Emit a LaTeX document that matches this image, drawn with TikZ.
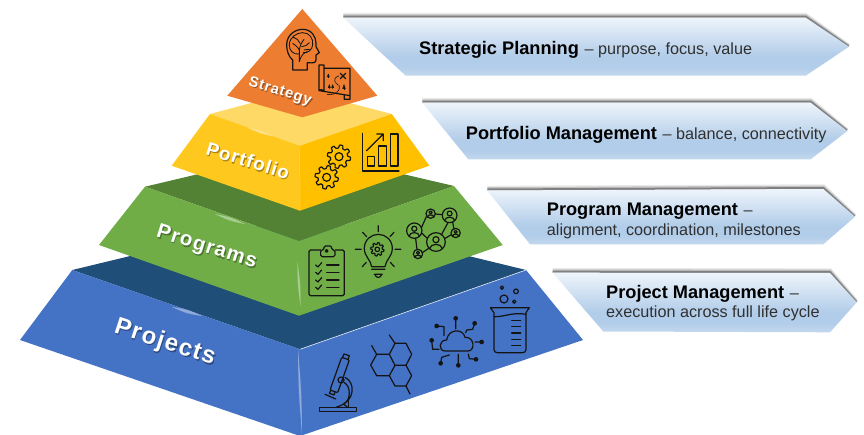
\documentclass[tikz,border=0pt]{standalone}
\usepackage{fontspec}
\setmainfont{Liberation Sans}
\newfontfamily\lblfont[LetterSpace=6,Kerning=Off]{Liberation Sans}
\usetikzlibrary{calc}
\definecolor{blueF}{HTML}{4472C4}
\definecolor{blueT}{HTML}{1F4E79}
\definecolor{greenF}{HTML}{70AD47}
\definecolor{greenT}{HTML}{548235}
\definecolor{yelL}{HTML}{FFC81E}
\definecolor{yelR}{HTML}{FFC000}
\definecolor{yelT}{HTML}{FFD966}
\definecolor{oran}{HTML}{ED7D31}
\definecolor{icon}{HTML}{141414}
\definecolor{subtext}{HTML}{303030}
\definecolor{b1}{HTML}{C3D8EE}
\definecolor{b2}{HTML}{B2CDE9}
\definecolor{b3}{HTML}{EEF4FB}
\pgfdeclareverticalshading{bannershade}{100bp}{
  color(0bp)=(b1); color(25bp)=(b1); color(33bp)=(b2); color(42bp)=(b2); color(75bp)=(b3); color(100bp)=(b3)}
\pgfdeclarelayer{tshadow}
\pgfdeclarelayer{labels}
\pgfsetlayers{main,tshadow,labels}
\tikzset{
  ico/.style={draw=icon,line width=1.2pt,line join=round,line cap=round},
  bold head/.style={inner sep=0pt,anchor=base west,font=\fontsize{18.2}{18.2}\selectfont\bfseries,text=black},
  sub line/.style={inner sep=0pt,anchor=base west,font=\fontsize{16.2}{16.2}\selectfont,text=subtext},
  sdw/.style={draw=black,opacity=.33,line width=\sdwidth,line cap=butt,line join=round},
}
% letter skeletons for the soft drop shadow under the tier labels (em units, y up)
\def\sglS{\draw[sdw] (.57,.58) .. controls (.5,.66) and (.17,.68) .. (.14,.52) .. controls (.12,.38) and (.55,.38) .. (.54,.2) .. controls (.52,.03) and (.14,.03) .. (.09,.2);}
\def\sglt{\draw[sdw] (.16,.68) -- (.16,.1) .. controls (.16,.05) and (.22,.05) .. (.3,.06) (.03,.47) -- (.3,.47);}
\def\sglr{\draw[sdw] (.11,.52) -- (.11,0) (.11,.33) .. controls (.15,.47) and (.26,.47) .. (.36,.45);}
\def\sgla{\draw[sdw] (.08,.38) .. controls (.12,.5) and (.43,.5) .. (.43,.35) -- (.43,.08) -- (.47,0) (.43,.28) .. controls (.2,.27) and (.08,.24) .. (.08,.14) .. controls (.08,.02) and (.35,.03) .. (.43,.12);}
\def\sgle{\draw[sdw] (.09,.27) -- (.47,.27) .. controls (.47,.55) and (.09,.55) .. (.09,.26) .. controls (.09,0) and (.42,.02) .. (.47,.14);}
\def\sglg{\draw[sdw] (.49,.52) -- (.49,-.05) .. controls (.49,-.2) and (.15,-.2) .. (.1,-.09) (.49,.26) .. controls (.49,.53) and (.11,.53) .. (.11,.26) .. controls (.11,0) and (.49,0) .. (.49,.26);}
\def\sgly{\draw[sdw] (.05,.52) -- (.28,0) (.5,.52) -- (.28,0) .. controls (.22,-.15) and (.15,-.15) .. (.07,-.14);}
\def\sglP{\draw[sdw] (.14,0) -- (.14,.72) (.14,.66) -- (.4,.66) .. controls (.65,.66) and (.65,.31) .. (.4,.31) -- (.14,.31);}
\def\sglo{\draw[sdw] (.5,.26) .. controls (.5,.55) and (.1,.55) .. (.1,.26) .. controls (.1,-.03) and (.5,-.03) .. (.5,.26);}
\def\sglf{\draw[sdw] (.15,0) -- (.15,.55) .. controls (.15,.68) and (.22,.68) .. (.32,.67) (.02,.47) -- (.3,.47);}
\def\sgll{\draw[sdw] (.14,0) -- (.14,.72);}
\def\sgli{\draw[sdw] (.14,0) -- (.14,.52) (.14,.6) -- (.14,.72);}
\def\sglm{\draw[sdw] (.11,0) -- (.11,.52) (.11,.36) .. controls (.15,.5) and (.44,.5) .. (.44,.33) -- (.44,0) (.44,.36) .. controls (.48,.5) and (.78,.5) .. (.78,.33) -- (.78,0);}
\def\sgls{\draw[sdw] (.47,.38) .. controls (.42,.52) and (.1,.52) .. (.1,.38) .. controls (.1,.24) and (.46,.3) .. (.46,.14) .. controls (.46,0) and (.12,0) .. (.07,.14);}
\def\sglj{\draw[sdw] (.14,.52) -- (.14,-.1) .. controls (.14,-.18) and (.08,-.18) .. (-.03,-.17) (.14,.6) -- (.14,.72);}
\def\sglc{\draw[sdw] (.5,.36) .. controls (.43,.54) and (.09,.52) .. (.09,.26) .. controls (.09,0) and (.43,-.02) .. (.5,.17);}
\newcommand\glint[5]{% x1 y1 x2 y2 halfwidth
  \foreach \k/\o in {1/.18,.65/.25,.3/.35}{
    \fill[white,opacity=\o] (#1,#2) .. controls ($(#1,#2)!.5!(#3,#4)!\k*#5 pt!90:(#3,#4)$) .. (#3,#4)
      .. controls ($(#1,#2)!.5!(#3,#4)!\k*#5 pt!-90:(#3,#4)$) .. cycle;}}
\newcommand\banner[5]{% TL TR tip BR BL
  \foreach \w/\o/\d in {5/.12/2.2,3.5/.25/1.6,2/.55/1}{
    \draw[black!70,line width=\w pt,opacity=\o]
      ($(#1)+(0,-\d)$) -- ($(#2)+(0,-\d)$) -- ($(#3)+(-\d*.3,-\d*.3)$);}
  \shade[shading=bannershade] (#1) -- (#2) -- (#3) -- (#4) -- (#5) -- cycle;}
% name x y rot size text letters/advances
\newcommand\shlabel[7]{%
  \begin{pgfonlayer}{labels}
  \node[rotate=#4,inner sep=0pt,text=white,font=\fontsize{#5}{#5}\selectfont\lblfont\bfseries] (#1) at (#2,#3) {#6};
  \end{pgfonlayer}
  \begin{pgfonlayer}{tshadow}
  \begin{scope}[shift={($(#1.base west)+(1.1,1.1)$)},rotate=#4,x=#5pt,y=#5pt]
    \pgfmathsetlengthmacro\sdwidth{.125*#5}
    \gdef\cx{0}
    \foreach \L/\A in {#7}{
      \begin{scope}[shift={(\cx,0)}]\csname sgl\L\endcsname\end{scope}
      \pgfmathsetmacro\nx{\cx+\A+.06}
      \global\let\cx\nx}
  \end{scope}
  \end{pgfonlayer}}
\newcommand\gearat[3]{% x y R
  \draw[ico] plot[samples=145,domain=0:360,variable=\t]
    ({#1+(#3*(.87+.13*max(-1,min(1,2.2*sin(8*\t))))*cos(\t))},{#2+(#3*(.87+.13*max(-1,min(1,2.2*sin(8*\t))))*sin(\t))}) -- cycle;
  \draw[ico] (#1,#2) circle[radius=#3*.34];}
\newcommand\person[3]{% x y r
  \draw[ico] (#1,#2) circle[radius=#3];
  \draw[ico] (#1,#2-.25*#3) circle[radius=.33*#3];
  \draw[ico] (#1-.68*#3,#2+.72*#3) .. controls (#1-.6*#3,#2+.1*#3) and (#1+.6*#3,#2+.1*#3) .. (#1+.68*#3,#2+.72*#3);}
\newcommand\tree[3]{% x y s
  \draw[ico,fill=icon,line width=.5pt] (#1,#2-2*#3) -- (#1+#3,#2+#3) -- (#1-#3,#2+#3) -- cycle;
  \draw[ico,line width=.7pt] (#1,#2+#3) -- (#1,#2+1.7*#3);}
\begin{document}
\begin{tikzpicture}[x=1pt,y=-1pt]
\useasboundingbox (0,0) rectangle (864,435);
\fill[white] (0,0) rectangle (864,435);

% ---------- Banners
\banner{343.3,17.7}{805.7,17.7}{849,46.7}{805.7,75.7}{405.7,75.7}
\banner{422.3,102.7}{810.7,102.7}{847.3,131}{810.7,159.3}{468.3,159.3}
\banner{487.3,190.5}{823.3,189}{855,216.7}{823.3,244.3}{530,244.3}
\banner{552.7,272.7}{830,273}{856.7,302.3}{830,332.3}{603.3,331.5}

\node[bold head] (t1) at (419,54.3) {Strategic Planning};
\node[sub line,xshift=5.2pt] (s1) at (t1.base east) {– purpose, focus, value};
\node[bold head] (t2) at (465.7,139.3) {Portfolio Management};
\node[sub line,xshift=5.2pt] (s2) at (t2.base east) {– balance, connectivity};
\node[bold head] (t3) at (546.7,216) {Program Management};
\node[sub line,xshift=5.2pt] (s3) at (t3.base east) {–};
\node[sub line] (s3b) at (546.7,235.3) {alignment, coordination, milestones};
\node[bold head] (t4) at (606,298.3) {Project Management};
\node[sub line,xshift=5.2pt] (s4) at (t4.base east) {–};
\node[sub line] (s4b) at (606,318) {execution across full life cycle};

% ---------- Projects tier
\fill[blueT] (72.3,270) -- (300,215) -- (526,270) -- (300,349.3) -- cycle;
\fill[blueF] (72.3,270) -- (300,349.3) -- (300,436) -- (20,340) -- cycle;
\fill[blueF] (526,270) -- (583,340) -- (300,436) -- (300,349.3) -- cycle;
\draw[white,opacity=.75,line width=.7pt] (300,349.3) -- (526,270);
\glint{298}{349}{302}{434}{1.8}
\glint{172}{307}{202}{316}{2.6}

% ---------- Programs tier
\fill[greenT] (145,186.7) -- (300,150) -- (454,186) -- (299,241) -- cycle;
\fill[greenF] (145,186.7) -- (299,241) -- (299,315.7) -- (99,245) -- cycle;
\fill[greenF] (454,186) -- (502.7,245) -- (299,315.7) -- (299,241) -- cycle;
\glint{297.5}{262}{300.5}{306}{1.8}
\glint{215}{214}{245}{224}{2.4}

% ---------- Portfolio tier
\fill[yelT] (210,114) -- (300,90) -- (391.7,114) -- (300,145.7) -- cycle;
\fill[yelL] (210,114) -- (300,145.7) -- (300,210.7) -- (171.7,165.7) -- cycle;
\fill[yelR] (391.7,114) -- (429.3,165.7) -- (300,210.7) -- (300,145.7) -- cycle;
\glint{299}{150}{301}{208}{.9}
\glint{248}{128}{272}{136}{2}

% ---------- Strategy
\fill[oran] (302.3,9) -- (377.3,95.7) -- (302.3,117.3) -- (227.3,95.7) -- cycle;

% ---------- Tier labels
\shlabel{lstrategy}{280}{91.7}{-17.5}{14.7}{Strategy}{S/.667,t/.333,r/.389,a/.556,t/.333,e/.556,g/.611,y/.556}
\shlabel{lportfolio}{248}{160.5}{-17}{18.7}{Portfolio}{P/.667,o/.611,r/.389,t/.333,f/.333,o/.611,l/.278,i/.278,o/.611}
\shlabel{lprograms}{206.7}{247.7}{-17.5}{20.4}{Programs}{P/.667,r/.389,o/.611,g/.611,r/.389,a/.556,m/.889,s/.556}
\shlabel{lprojects}{165}{342.7}{-18}{24}{Projects}{P/.667,r/.389,o/.611,j/.278,e/.556,c/.556,t/.333,s/.556}

% ---------- Strategy icons
\begin{scope}[shift={(220,0)},x=.3333pt,y=-.3333pt]
  \draw[ico] (218,210) -- (218,180) .. controls (205,170) and (200,150) .. (200,135)
    .. controls (200,105) and (225,88) .. (248,88) .. controls (275,88) and (288,110) .. (288,130)
    -- (288,140) -- (298,158) -- (288,165) -- (288,180) .. controls (288,188) and (280,190) .. (262,188)
    -- (262,210) -- cycle;
  \draw[ico,line width=.85pt] (236,162) .. controls (220,165) and (207,150) .. (208,135)
    .. controls (208,112) and (230,98) .. (248,98) .. controls (268,98) and (281,115) .. (278,135)
    .. controls (277,150) and (262,160) .. (250,158);
  \draw[ico,line width=.85pt] (238,185) -- (238,150) .. controls (232,140) and (226,135) .. (218,130)
    (238,150) .. controls (240,135) and (245,128) .. (252,118)
    (245,140) .. controls (255,140) and (262,135) .. (268,128)
    (232,118) -- (240,130) (252,150) -- (268,148)
    (220,112) -- (232,118) (238,185) .. controls (245,160) and (255,158) .. (262,155);
  % map
  \draw[ico] (312,205) -- (390,205) -- (390,287) -- (298,272)
    (297,195) -- (312,195) -- (312,275) .. controls (312,268) and (298,268) .. (297,272) -- cycle
    (373,287) -- (373,298) -- (390,298) -- (390,287);
  \tree{325}{228}{3}
  \tree{372}{262}{4}
  \tree{328}{260}{3}
  \tree{338}{260}{3}
  \draw[ico] (361,220) -- (377,236) (377,220) -- (361,236);
  \draw[ico,densely dotted,line width=.8pt] (356,228) .. controls (335,235) and (345,250) .. (358,258)
    .. controls (362,270) and (350,285) .. (322,284);
\end{scope}

% ---------- Portfolio icons
\begin{scope}[shift={(160,100)},x=.3333pt,y=-.3333pt]
  \gearat{537}{170}{35}
  \gearat{500}{232}{35}
  \draw[ico] (607,100) -- (607,213) -- (717,213);
  \draw[ico] (622,170) rectangle (643,198);
  \draw[ico] (656,138) rectangle (679,198);
  \draw[ico] (692,102) rectangle (714,198);
  \draw[ico] (620,152) -- (670,102) (650,102) -- (670,102) -- (670,122);
\end{scope}

% ---------- Programs icons
\begin{scope}[shift={(90,170)},x=.3333pt,y=-.3333pt]
  \draw[ico,rounded corners=1.5pt] (657,240) rectangle (763,377);
  \fill[greenF] (692,236) rectangle (735,262);
  \draw[ico,rounded corners=1.5pt] (692,240) -- (702,240) -- (702,228) -- (725,228) -- (725,240) -- (735,240) -- (735,260) -- (692,260) -- cycle;
  \draw[ico] (710,243) circle[radius=4];
  \foreach \yy in {285,307,330,352}{
    \draw[ico] (677,\yy) -- (684,\yy+6) -- (695,\yy-7);
    \draw[ico] (710,\yy) -- (747,\yy);}
  % bulb
  \draw[ico] (845,290) .. controls (843,270) and (823,260) .. (823,235)
    .. controls (823,210) and (843,193) .. (865,193) .. controls (887,193) and (907,210) .. (907,235)
    .. controls (907,260) and (887,270) .. (885,290) -- cycle;
  \gearat{862}{238}{20}
  \draw[ico] (845,298) -- (885,298) (853,313) -- (877,313) (855,314) .. controls (858,325) and (872,325) .. (875,314);
  \draw[ico] (865,167) -- (865,185) (818,187) -- (830,200) (912,187) -- (900,200)
    (796,238) -- (814,238) (915,238) -- (933,238) (817,290) -- (829,277) (913,290) -- (901,277);
  % network
  \draw[ico] (995,172) -- (1009,140) (1036,132) -- (1057,134) (1088,156) -- (1092,176)
    (1074,158) -- (1054,195) (1084,194) -- (1064,206) (996,190) -- (1012,205)
    (977,205) -- (981,238) (997,248) -- (1018,234);
  \person{973}{182}{23}
  \person{1022}{131}{14}
  \person{1079}{136}{22}
  \person{1097}{189}{14}
  \person{1038}{216}{28}
  \person{984}{252}{14}
\end{scope}

% ---------- Projects icons
\begin{scope}[shift={(290,260)},x=.3333pt,y=-.3333pt]
  % microscope
  \draw[ico] (88,442) rectangle (200,455);
  \draw[ico,rounded corners=1pt] (155,292) -- (178,300) -- (143,398) -- (120,390) -- cycle;
  \draw[ico] (162,282) -- (178,287) -- (174,298) (158,292) -- (162,282);
  \draw[ico] (122,392) -- (118,400) -- (132,405) -- (135,397);
  \draw[ico] (153,360) circle[radius=9];
  \draw[ico] (105,403) -- (137,417);
  \draw[ico] (165,352) .. controls (195,365) and (200,425) .. (140,441)
    (163,368) .. controls (182,378) and (185,420) .. (160,432) -- (172,441);
  \draw[ico] (175,441) -- (175,420);
  % hexagons
  \draw[ico] (315,250) -- (348,250) -- (365,283) -- (348,316) -- (315,316) -- (298,283) -- cycle
    (298,283) -- (260,283) -- (242,315) -- (260,347) -- (298,347) -- (315,316)
    (348,316) -- (365,347) -- (348,378) -- (315,378) -- (298,347)
    (315,250) -- (298,225) (260,283) -- (245,257) (348,378) -- (360,402);
  % cloud
  \draw[ico] (465,273) .. controls (445,273) and (445,240) .. (470,240)
    .. controls (475,205) and (520,205) .. (525,232) .. controls (555,230) and (555,273) .. (535,273) -- cycle;
  \foreach \a/\b in {497/175,554/190,575/246,558/298,505/316,452/310,425/241,440/198}{
    \fill[icon] (\a,\b) circle[radius=7];}
  \draw[ico] (497,175) -- (497,207)
    (554,190) -- (548,208) -- (530,210) -- (527,218)
    (575,246) -- (555,246)
    (558,298) -- (538,296) -- (535,282)
    (505,316) -- (505,283)
    (452,310) -- (455,292) -- (478,285)
    (425,241) -- (428,268) -- (447,268)
    (440,198) -- (462,200) -- (462,227);
  % beaker
  \draw[ico] (601,143) -- (718,143) -- (708,158) -- (708,268) .. controls (708,275) and (704,278) .. (698,278)
    -- (622,278) .. controls (616,278) and (612,275) .. (612,268) -- (612,158) -- cycle;
  \draw[ico] (612,170) .. controls (640,172) and (670,155) .. (708,163);
  \foreach \yy in {182,200,219,238,257}{\draw[ico] (665,\yy) -- (692,\yy);}
  \draw[ico] (642,117) circle[radius=12];
  \draw[ico] (678,94) circle[radius=7];
  \draw[ico] (673,125) circle[radius=5];
  \draw[ico] (636,83) circle[radius=5];
\end{scope}
\end{tikzpicture}
\end{document}
